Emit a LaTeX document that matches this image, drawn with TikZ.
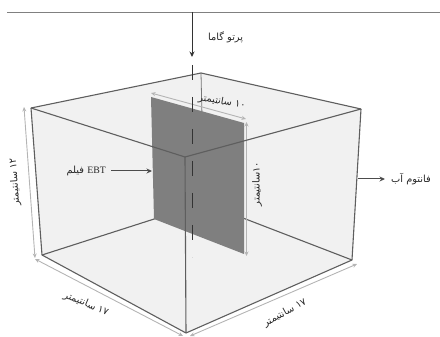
\documentclass[tikz,border=0pt]{standalone}
\usepackage{fontspec}
\usetikzlibrary{arrows.meta}
\TeXXeTstate=1
\newfontfamily\arabicfont[Script=Arabic]{DejaVu Sans}
\newfontfamily\latinfont{Liberation Serif}
\newcommand{\fa}[1]{{\arabicfont\beginR #1\endR}}
\tikzset{
  face/.style={fill=boxfill,draw=none},
  edge/.style={draw=edgegray,line width=1.1pt,line join=round},
  thinedge/.style={draw=edgegray!85,line width=0.8pt},
  dimline/.style={draw=dimgray,line width=0.9pt,{Stealth[length=4.5pt,width=4pt]}-{Stealth[length=4.5pt,width=4pt]}},
  pointer/.style={draw=black!70,line width=1pt,-{Stealth[length=5.5pt,width=5pt]}},
  lbl/.style={inner sep=0pt,font=\fontsize{9.8}{11}\selectfont,text=black!85},
}
\definecolor{boxfill}{HTML}{F1F1F1}
\definecolor{filmgray}{HTML}{7F7F7F}
\definecolor{edgegray}{HTML}{5E5E5E}
\definecolor{dimgray}{HTML}{B4B4B4}
\begin{document}
\begin{tikzpicture}[x=1pt,y=-1pt]
\useasboundingbox (0,0) rectangle (440,337);
% box corners
\coordinate (TB) at (201,73);
\coordinate (TL) at (31,108);
\coordinate (TR) at (361,109);
\coordinate (TF) at (185,157);
\coordinate (BB) at (204,203);
\coordinate (BL) at (42,255);
\coordinate (BR) at (352,260);
\coordinate (BF) at (186,333);
% film corners
\coordinate (FA) at (151,97);
\coordinate (FB) at (244,123);
\coordinate (FC) at (244,254);
\coordinate (FD) at (154,219);
% free ends
\coordinate (ruleL) at (7,12);
\coordinate (ruleR) at (440,12);
\coordinate (beamtop) at (192,12);
\coordinate (beamend) at (192,57);
\coordinate (dashA) at (192,65);
\coordinate (dashB) at (192,257);
\coordinate (filmhit) at (152,171);
\coordinate (waterstart) at (358,179);
\coordinate (waterend) at (385,179);
% dimension ends
\coordinate (d1a) at (151,93);
\coordinate (d1b) at (246,119);
\coordinate (d2a) at (246.5,122);
\coordinate (d2b) at (246.5,256);
\coordinate (d3a) at (24,107);
\coordinate (d3b) at (35,258);
\coordinate (d4a) at (35,259);
\coordinate (d4b) at (183,336);
\coordinate (d5a) at (190,336);
\coordinate (d5b) at (357,264);
% faces
\fill[face] (TL) -- (TB) -- (TR) -- (BR) -- (BF) -- (BL) -- cycle;
% rule
\draw[draw=black!50,line width=0.9pt] (ruleL) -- (ruleR);
% back edges
\draw[thinedge] (TB) -- (BB);
\draw[edge] (TL) -- (TB) -- (TR);
\draw[edge] (BL) -- (BB) -- (BR);
% film
\fill[filmgray] (FA) -- (FB) -- (FC) -- (FD) -- cycle;
% dimensions
\draw[dimline] (d1a) -- (d1b);
\draw[dimline] (d2a) -- (d2b);
\draw[dimline] (d3a) -- (d3b);
\draw[dimline] (d4a) -- (d4b);
\draw[dimline] (d5a) -- (d5b);
% front edges
\draw[edge] (TL) -- (TF) -- (TR);
\draw[edge] (TL) -- (BL) -- (BF) -- (BR) -- (TR);
\draw[edge] (TF) -- (BF);
% beam
\draw[pointer,draw=black!80] (beamtop) -- (beamend);
\draw[draw=black!80,line width=1pt,dash pattern=on 15pt off 17pt] (dashA) -- (dashB);
% labels
\node[lbl,anchor=west] (gamma) at (208,37) {\fa{پرتو گاما}};
\node[lbl,anchor=east] (film) at (106,171) {\fa{فیلم} {\latinfont EBT}};
\node[lbl,anchor=west] (water) at (391,179) {\fa{فانتوم آب}};
\node[lbl,rotate=-10] (dimtop) at (222,102) {\fa{۱۰ سانتیمتر}};
\node[lbl,rotate=90] (dimright) at (257,184) {\fa{۱۰سانتیمتر}};
\node[lbl,rotate=94] (dimleft) at (15,182) {\fa{۱۲ سانتیمتر}};
\node[lbl,rotate=-23] (dimbl) at (86,304) {\fa{۱۷ سانتیمتر}};
\node[lbl,rotate=29] (dimbr) at (285,313) {\fa{۱۷ سانتیمتر}};
% pointers
\draw[pointer] (film.east) ++(5,0) -- (filmhit);
\draw[pointer] (waterstart) -- (waterend);
\end{tikzpicture}
\end{document}
